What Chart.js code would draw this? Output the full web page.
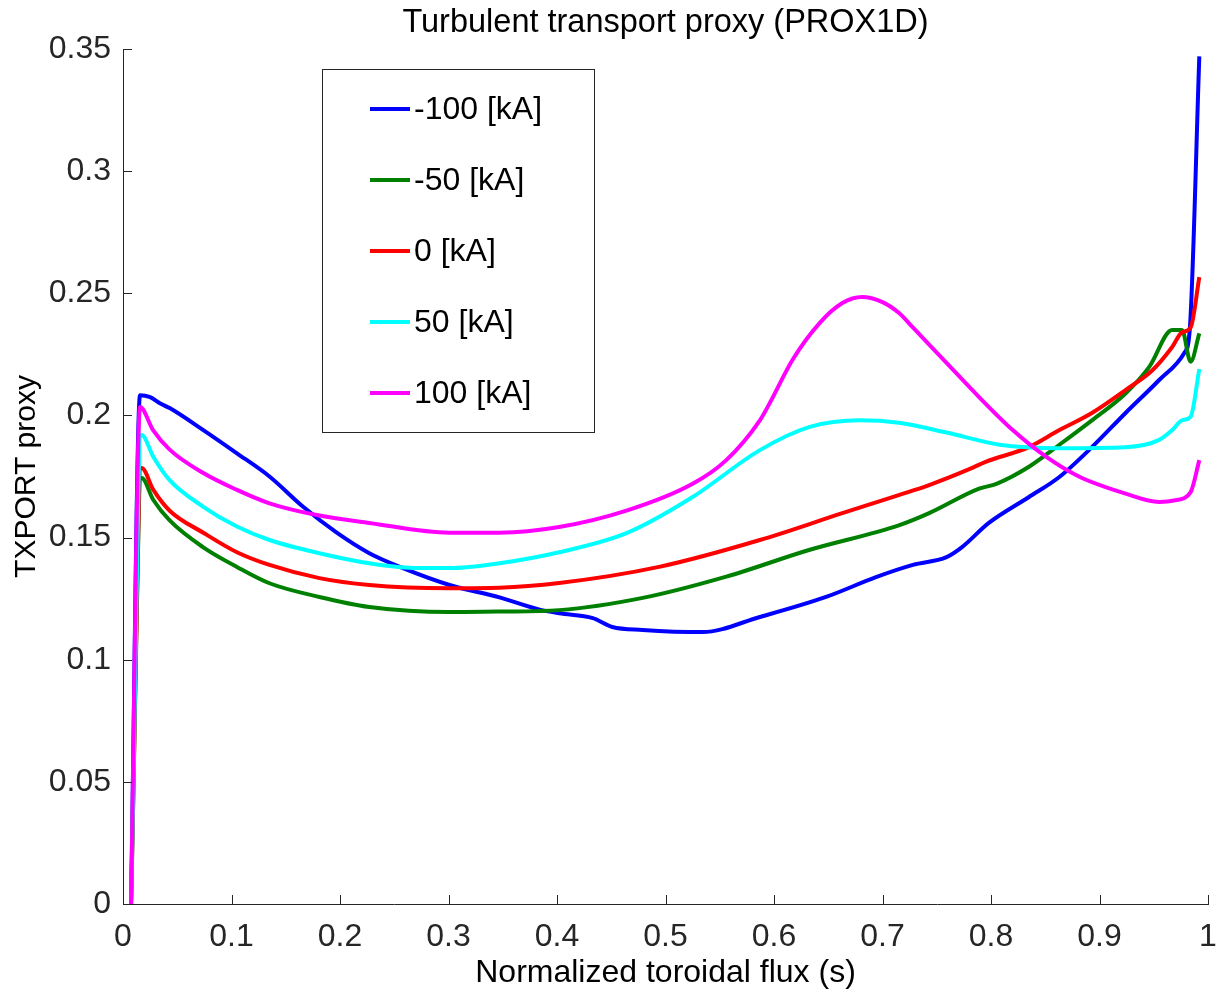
<!DOCTYPE html>
<html>
<head>
<meta charset="utf-8">
<title>Turbulent transport proxy (PROX1D)</title>
<script src="https://cdn.jsdelivr.net/npm/chart.js@4.4.1/dist/chart.umd.min.js"></script>
<style>
  html, body { margin: 0; padding: 0; background: #ffffff; }
  #wrap { width: 1222px; height: 993px; position: relative; }
</style>
</head>
<body>
<div id="wrap"><canvas id="proxChart" width="1222" height="993"></canvas></div>
<script>
// Turbulent transport proxy vs normalized toroidal flux

const seriesLabels = ["-100 [kA]", "-50 [kA]", "0 [kA]", "50 [kA]", "100 [kA]"]
const seriesColors = ["#0000ff", "#008000", "#ff0000", "#00ffff", "#ff00ff"]

// -100 kA
const xM100 = [0.0074, 0.0157, 0.025, 0.034, 0.043, 0.074, 0.105, 0.135, 0.166, 0.197, 0.227, 0.258, 0.301, 0.347, 0.384, 0.402, 0.433, 0.451, 0.479, 0.534, 0.587, 0.648, 0.694, 0.728, 0.759, 0.773, 0.798, 0.835, 0.863, 0.893, 0.924, 0.955, 0.978, 0.983, 0.992]
const yM100 = [0, 0.2083, 0.2075, 0.205, 0.203, 0.194, 0.1845, 0.175, 0.1626, 0.152, 0.1436, 0.1375, 0.1306, 0.1255, 0.1205, 0.119, 0.117, 0.1134, 0.1122, 0.1113, 0.1175, 0.1257, 0.1338, 0.1388, 0.142, 0.146, 0.156, 0.1666, 0.1748, 0.187, 0.201, 0.2145, 0.2255, 0.234, 0.347]

// -50 kA
const xM50 = [0.0074, 0.0172, 0.028, 0.043, 0.074, 0.105, 0.135, 0.181, 0.227, 0.301, 0.347, 0.402, 0.479, 0.556, 0.633, 0.715, 0.743, 0.789, 0.805, 0.835, 0.863, 0.893, 0.924, 0.946, 0.967, 0.976, 0.984, 0.992]
const yM50 = [0, 0.1744, 0.1654, 0.157, 0.146, 0.138, 0.1313, 0.1257, 0.1216, 0.1195, 0.1197, 0.1203, 0.1253, 0.134, 0.145, 0.155, 0.160, 0.170, 0.172, 0.179, 0.188, 0.198, 0.209, 0.220, 0.235, 0.235, 0.222, 0.2336]

// 0 kA
const xZero = [0.0074, 0.0172, 0.028, 0.043, 0.074, 0.105, 0.135, 0.181, 0.227, 0.301, 0.347, 0.402, 0.494, 0.587, 0.663, 0.715, 0.743, 0.78, 0.795, 0.835, 0.863, 0.893, 0.924, 0.949, 0.967, 0.976, 0.984, 0.992]
const yZero = [0, 0.1785, 0.1695, 0.161, 0.152, 0.144, 0.1388, 0.1334, 0.1306, 0.1293, 0.1295, 0.1314, 0.138, 0.149, 0.16, 0.1674, 0.1715, 0.178, 0.181, 0.187, 0.194, 0.201, 0.2104, 0.2186, 0.228, 0.234, 0.236, 0.2566]

// 50 kA
const xP50 = [0.0074, 0.0172, 0.028, 0.043, 0.074, 0.105, 0.135, 0.181, 0.227, 0.273, 0.301, 0.347, 0.402, 0.464, 0.525, 0.587, 0.633, 0.679, 0.715, 0.759, 0.808, 0.863, 0.924, 0.955, 0.967, 0.976, 0.984, 0.992]
const yP50 = [0, 0.192, 0.183, 0.1735, 0.1626, 0.1545, 0.149, 0.1436, 0.1395, 0.1375, 0.1375, 0.1395, 0.144, 0.1518, 0.1666, 0.1858, 0.1953, 0.198, 0.197, 0.193, 0.188, 0.1866, 0.187, 0.19, 0.194, 0.198, 0.1995, 0.219]

// 100 kA
const xP100 = [0.0074, 0.0157, 0.0277, 0.043, 0.074, 0.105, 0.135, 0.181, 0.227, 0.301, 0.347, 0.402, 0.464, 0.525, 0.556, 0.587, 0.596, 0.617, 0.642, 0.663, 0.681, 0.7, 0.715, 0.728, 0.759, 0.789, 0.82, 0.851, 0.881, 0.924, 0.955, 0.97, 0.984, 0.992]
const yP100 = [0, 0.2035, 0.194, 0.186, 0.1764, 0.1695, 0.164, 0.159, 0.156, 0.152, 0.152, 0.1543, 0.161, 0.172, 0.1817, 0.198, 0.205, 0.2227, 0.2378, 0.246, 0.2485, 0.2464, 0.242, 0.236, 0.2215, 0.2075, 0.194, 0.183, 0.175, 0.168, 0.1646, 0.1653, 0.1686, 0.1817]

const xSeries = [xM100, xM50, xZero, xP50, xP100]
const ySeries = [yM100, yM50, yZero, yP50, yP100]

// Axis ticks
const xTicks = [0, 0.1, 0.2, 0.3, 0.4, 0.5, 0.6, 0.7, 0.8, 0.9, 1]
const yTicks = [0, 0.05, 0.1, 0.15, 0.2, 0.25, 0.3, 0.35]

const axisColor = "#262626"
const fontFamily = "'Liberation Sans', Arial, Helvetica, sans-serif"

function zipPoints(xs, ys) {
  return xs.map((x, i) => ({ x: x, y: ys[i] }))
}

// MATLAB-like title centered over the axes
const titlePlugin = {
  id: "axesTitle",
  afterDraw(chart) {
    const ctx = chart.ctx
    const area = chart.chartArea
    ctx.save()
    ctx.fillStyle = "#000000"
    ctx.font = "32.5px " + fontFamily
    ctx.textAlign = "center"
    ctx.textBaseline = "middle"
    ctx.fillText("Turbulent transport proxy (PROX1D)", (area.left + area.right) / 2, 23)
    ctx.restore()
  },
}

// Inward tick marks on left and bottom axes
const innerTicksPlugin = {
  id: "innerTicks",
  afterDraw(chart) {
    const ctx = chart.ctx
    const area = chart.chartArea
    const xs = chart.scales.x
    const ys = chart.scales.y
    ctx.save()
    ctx.strokeStyle = axisColor
    ctx.lineWidth = 1
    ctx.beginPath()
    xTicks.forEach((v) => {
      const px = Math.round(xs.getPixelForValue(v)) + 0.5
      ctx.moveTo(px, area.bottom)
      ctx.lineTo(px, area.bottom - 9)
    })
    yTicks.forEach((v) => {
      const py = Math.round(ys.getPixelForValue(v)) + 0.5
      ctx.moveTo(area.left, py)
      ctx.lineTo(area.left + 9, py)
    })
    ctx.stroke()
    ctx.restore()
  },
}

// Boxed legend inside the axes
const boxLegendPlugin = {
  id: "boxLegend",
  afterDraw(chart) {
    const ctx = chart.ctx
    const left = 322
    const top = 69
    const width = 272
    const height = 363
    ctx.save()
    ctx.fillStyle = "#ffffff"
    ctx.fillRect(left, top, width, height)
    ctx.strokeStyle = axisColor
    ctx.lineWidth = 1
    ctx.strokeRect(left + 0.5, top + 0.5, width, height)
    ctx.font = "32px " + fontFamily
    ctx.textBaseline = "middle"
    ctx.textAlign = "left"
    chart.data.datasets.forEach((ds, i) => {
      const rowY = top + 40 + i * 71
      ctx.strokeStyle = ds.borderColor
      ctx.lineWidth = 4
      ctx.beginPath()
      ctx.moveTo(left + 48, rowY)
      ctx.lineTo(left + 88, rowY)
      ctx.stroke()
      ctx.fillStyle = "#000000"
      ctx.fillText(ds.label, left + 92, rowY + 1)
    })
    ctx.restore()
  },
}

function buildDatasets() {
  return seriesLabels.map((label, i) => ({
    label: label,
    data: zipPoints(xSeries[i], ySeries[i]),
    borderColor: seriesColors[i],
    backgroundColor: seriesColors[i],
    borderWidth: 4,
    pointRadius: 0,
    fill: false,
    cubicInterpolationMode: "monotone",
    // later series on top, like MATLAB
    order: seriesLabels.length - i,
  }))
}

function formatTick(value) {
  return String(+Number(value).toFixed(2))
}

function initializeChart() {
  const ctx = document.getElementById("proxChart").getContext("2d")
  new Chart(ctx, {
    type: "line",
    data: { datasets: buildDatasets() },
    options: {
      responsive: false,
      animation: false,
      events: [],
      layout: { padding: { top: 49, right: 14, left: 0, bottom: 0 } },
      plugins: {
        legend: { display: false },
        title: { display: false },
        tooltip: { enabled: false },
      },
      scales: {
        x: {
          type: "linear",
          min: 0,
          max: 1,
          afterFit: (scale) => {
            scale.height = 89
            scale.paddingLeft = 0
            scale.paddingRight = 0
          },
          afterBuildTicks: (scale) => { scale.ticks = xTicks.map((v) => ({ value: v })) },
          grid: { drawOnChartArea: false, drawTicks: false },
          border: { display: true, color: axisColor, width: 1 },
          ticks: {
            color: axisColor,
            padding: 14,
            maxRotation: 0,
            font: { family: fontFamily, size: 32 },
            callback: formatTick,
          },
          title: {
            display: true,
            text: "Normalized toroidal flux (s)",
            color: "#000000",
            font: { family: fontFamily, size: 32 },
            padding: { top: 0, bottom: 1 },
          },
        },
        y: {
          type: "linear",
          min: 0,
          max: 0.35,
          afterFit: (scale) => { scale.width = 123 },
          afterBuildTicks: (scale) => { scale.ticks = yTicks.map((v) => ({ value: v })) },
          grid: { drawOnChartArea: false, drawTicks: false },
          border: { display: true, color: axisColor, width: 1 },
          ticks: {
            color: axisColor,
            padding: 12,
            font: { family: fontFamily, size: 32 },
            callback: formatTick,
          },
          title: {
            display: true,
            text: "TXPORT proxy",
            color: "#000000",
            font: { family: fontFamily, size: 30 },
            padding: { top: 9, bottom: 0 },
          },
        },
      },
    },
    plugins: [titlePlugin, innerTicksPlugin, boxLegendPlugin],
  })
}

document.addEventListener("DOMContentLoaded", initializeChart)
</script>
</body>
</html>
